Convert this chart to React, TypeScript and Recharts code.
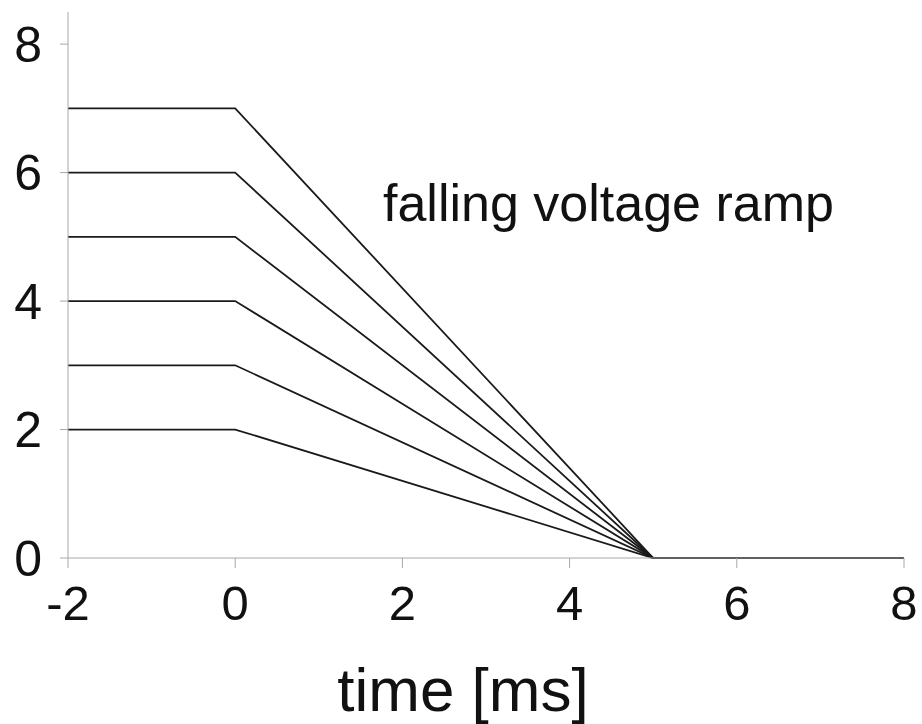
import React from 'react';
import { LineChart, Line, XAxis, YAxis, Customized } from 'recharts';

const times = [-2, 0, 5, 8];
const ramp2 = [2, 2, 0, 0];
const ramp3 = [3, 3, 0, 0];
const ramp4 = [4, 4, 0, 0];
const ramp5 = [5, 5, 0, 0];
const ramp6 = [6, 6, 0, 0];
const ramp7 = [7, 7, 0, 0];
const xTicks = [-2, 0, 2, 4, 6, 8];
const yTicks = [0, 2, 4, 6, 8];
const annotation = 'falling voltage ramp';
const xLabel = 'time [ms]';

const series = [
  { key: 'r2', values: ramp2 },
  { key: 'r3', values: ramp3 },
  { key: 'r4', values: ramp4 },
  { key: 'r5', values: ramp5 },
  { key: 'r6', values: ramp6 },
  { key: 'r7', values: ramp7 },
];

const data = times.map((t, i) => {
  const row: Record<string, number> = { t };
  series.forEach((s) => {
    row[s.key] = s.values[i];
  });
  return row;
});

const FONT = '"Liberation Sans", Arial, Helvetica, sans-serif';

const Texts = () => (
  <g>
    <text x={383} y={221} fontSize={52} fontFamily={FONT} fill="#111" textAnchor="start">
      {annotation}
    </text>
    <text x={463} y={711} fontSize={62} fontFamily={FONT} fill="#111" textAnchor="middle">
      {xLabel}
    </text>
  </g>
);

export default function App() {
  return (
    <div style={{ position: 'absolute', left: 0, top: 0, background: '#fff' }}>
      <LineChart
        width={922}
        height={724}
        data={data}
        margin={{ top: 12, right: 18, left: 0, bottom: 0 }}
      >
        <XAxis
          dataKey="t"
          type="number"
          domain={[-2, 8]}
          ticks={xTicks}
          height={166}
          tickSize={10}
          tickMargin={17}
          stroke="#a8a8a8"
          tick={{ fill: '#111', fontSize: 49, fontFamily: FONT }}
          interval={0}
        />
        <YAxis
          type="number"
          domain={[0, 8.5]}
          ticks={yTicks}
          width={68}
          tickSize={8}
          tickMargin={18}
          stroke="#a8a8a8"
          tick={{ fill: '#111', fontSize: 50, fontFamily: FONT }}
          interval={0}
        />
        {series.map((s) => (
          <Line
            key={s.key}
            dataKey={s.key}
            type="linear"
            stroke="#1a1a1a"
            strokeWidth={1.8}
            dot={false}
            activeDot={false}
            isAnimationActive={false}
          />
        ))}
        <Customized component={Texts} />
      </LineChart>
    </div>
  );
}
